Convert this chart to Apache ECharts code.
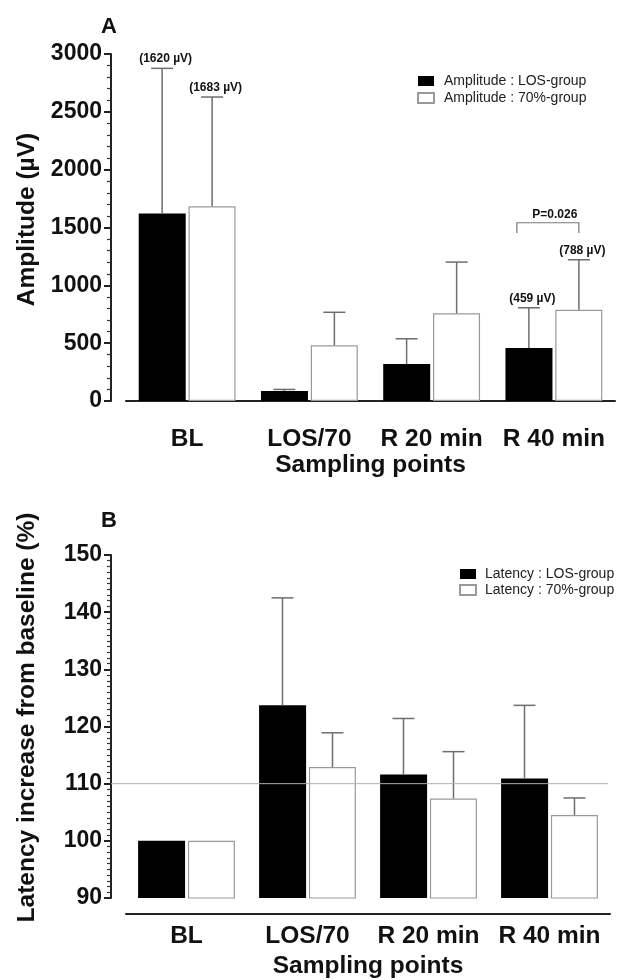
<!DOCTYPE html>
<html>
<head>
<meta charset="utf-8">
<script src="https://cdn.jsdelivr.net/npm/echarts@6/dist/echarts.min.js"></script>
<style>
html,body{margin:0;padding:0;background:#fff;}
#c{width:617px;height:980px;}
</style>
</head>
<body>
<div id="c"></div>
<script>
// ---- data ----
var categories = ['BL', 'LOS/70', 'R 20 min', 'R 40 min'];
var ampLOS = [1620, 86, 320, 459];
var ampLOSErr = [2876, 100, 538, 806];
var amp70 = [1683, 481, 758, 788];
var amp70Err = [2628, 767, 1201, 1221];
var ampLOSLabels = ['(1620 µV)', '', '', '(459 µV)'];
var amp70Labels = ['(1683 µV)', '', '', '(788 µV)'];
var pBracket = [[3, 1541, 1452]];
var pText = 'P=0.026';
var latLOS = [100, 123.7, 111.6, 110.9];
var latLOSErr = [null, 142.5, 121.4, 123.7];
var lat70 = [100, 112.9, 107.4, 104.5];
var lat70Err = [null, 118.9, 115.6, 107.5];
var latRef = 110;
var ampTicks = {min: 0, max: 3000, interval: 500};
var latTicks = {min: 90, max: 150, interval: 10};

var FONT = "'Liberation Sans', Arial, sans-serif";
var ERR = '#6e6e6e';
var HALF = 25; // half of (bar width + gap)

function errData(hi, mean) {
  var out = [];
  hi.forEach(function (v, i) { if (v != null) out.push([i, v, mean[i]]); });
  return out;
}
function errRender(shift, labels) {
  return function (params, api) {
    var idx = api.value(0);
    var top = api.coord([idx, api.value(1)]);
    var base = api.coord([idx, api.value(2)]);
    var x = top[0] + shift;
    var ch = [
      {type: 'line', shape: {x1: x, y1: base[1], x2: x, y2: top[1]}, style: {stroke: ERR, lineWidth: 1.5}},
      {type: 'line', shape: {x1: x - 11, y1: top[1], x2: x + 11, y2: top[1]}, style: {stroke: ERR, lineWidth: 1.5}}
    ];
    if (labels) {
      var t = labels[idx];
      if (t) ch.push({type: 'text', x: x + 3.5, y: top[1] - 9.5,
        style: {text: t, font: 'bold 12px ' + FONT, fill: '#111', align: 'center', verticalAlign: 'middle'}});
    }
    return {type: 'group', children: ch};
  };
}
function bracketRender(params, api) {
  var idx = api.value(0);
  var c = api.coord([idx, api.value(1)]);
  var b = api.coord([idx, api.value(2)]);
  var xl = c[0] - 37, xr = c[0] + HALF;
  return {type: 'group', children: [
    {type: 'polyline', shape: {points: [[xl, b[1]], [xl, c[1]], [xr, c[1]], [xr, b[1]]]}, style: {stroke: '#777', lineWidth: 1.2, fill: null}},
    {type: 'text', x: c[0] + 1, y: c[1] - 8.5, style: {text: pText, font: 'bold 12px ' + FONT, fill: '#111', align: 'center', verticalAlign: 'middle'}}
  ]};
}

function xAx(grid, labelMargin, nameGap) {
  return {
    type: 'category', gridIndex: grid, data: categories, offset: 16,
    axisLine: {lineStyle: {color: '#222', width: 2}},
    axisTick: {alignWithLabel: true, length: 5, lineStyle: {color: '#222', width: 1.5}},
    axisLabel: {interval: 0, fontFamily: FONT, fontWeight: 'bold', fontSize: 24.5, color: '#111', margin: labelMargin},
    name: 'Sampling points', nameLocation: 'middle', nameGap: nameGap,
    nameTextStyle: {fontFamily: FONT, fontWeight: 'bold', fontSize: 24.5, color: '#111'}
  };
}
function yAx(grid, t, name, nameGap, minorSplit, shiftUp) {
  return {
    type: 'value', gridIndex: grid, min: t.min, max: t.max, interval: t.interval, offset: 15,
    axisLine: {show: true, lineStyle: {color: '#222', width: 2}},
    axisTick: {show: true, length: 7, lineStyle: {color: '#222', width: 2}},
    minorTick: {show: true, splitNumber: minorSplit, length: 4, lineStyle: {color: '#333', width: 1.2}},
    splitLine: {show: false},
    axisLabel: {fontFamily: FONT, fontWeight: 'bold', fontSize: 23, color: '#111', margin: 9,
      formatter: function (v) { return String(v); }},
    name: name, nameLocation: 'middle', nameGap: nameGap,
    nameTextStyle: {fontFamily: FONT, fontWeight: 'bold', fontSize: 24.5, color: '#111', padding: [0, 0, 0, shiftUp]}
  };
}

var blackStyle = {color: '#000'};
var whiteStyle = {color: '#fff', borderColor: '#9a9a9a', borderWidth: 1.2};

var option = {
  animation: false,
  backgroundColor: '#fff',
  grid: [
    {left: 126, right: 2, top: 54, bottom: 579},
    {left: 126, right: 7, top: 555, bottom: 81}
  ],
  xAxis: [xAx(0, 10, 34), xAx(1, 10, 40)],
  yAxis: [yAx(0, ampTicks, 'Amplitude (µV)', 71, 5, 16), yAx(1, latTicks, 'Latency increase from baseline (%)', 71, 10, 18)],
  legend: [
    {orient: 'vertical', left: 417, top: 74, padding: 0, itemWidth: 16, itemHeight: 10, itemGap: 3, icon: 'rect',
     textStyle: {fontFamily: FONT, fontSize: 14, color: '#222', padding: [0, 0, 0, 5], lineHeight: 14},
     data: ['Amplitude : LOS-group', 'Amplitude : 70%-group']},
    {orient: 'vertical', left: 459, top: 567, padding: 0, itemWidth: 16, itemHeight: 10, itemGap: 2, icon: 'rect',
     textStyle: {fontFamily: FONT, fontSize: 14, color: '#222', padding: [0, 0, 0, 4], lineHeight: 14},
     data: ['Latency : LOS-group', 'Latency : 70%-group']}
  ],
  series: [
    {name: 'Amplitude : LOS-group', type: 'bar', xAxisIndex: 0, yAxisIndex: 0, data: ampLOS, barWidth: 47, barGap: '6%', itemStyle: blackStyle},
    {name: 'Amplitude : 70%-group', type: 'bar', xAxisIndex: 0, yAxisIndex: 0, data: amp70, barWidth: 47, barGap: '6%', itemStyle: whiteStyle},
    {type: 'custom', xAxisIndex: 0, yAxisIndex: 0, data: errData(ampLOSErr, ampLOS), renderItem: errRender(-HALF, ampLOSLabels), encode: {x: 0, y: [1, 2]}, z: 5},
    {type: 'custom', xAxisIndex: 0, yAxisIndex: 0, data: errData(amp70Err, amp70), renderItem: errRender(HALF, amp70Labels), encode: {x: 0, y: [1, 2]}, z: 5},
    {type: 'custom', xAxisIndex: 0, yAxisIndex: 0, data: pBracket, renderItem: bracketRender, encode: {x: 0, y: [1, 2]}, z: 5},
    {name: 'Latency : LOS-group', type: 'bar', xAxisIndex: 1, yAxisIndex: 1, data: latLOS, barWidth: 47, barGap: '6%', itemStyle: blackStyle},
    {name: 'Latency : 70%-group', type: 'bar', xAxisIndex: 1, yAxisIndex: 1, data: lat70, barWidth: 47, barGap: '6%', itemStyle: whiteStyle},
    {type: 'custom', xAxisIndex: 1, yAxisIndex: 1, data: errData(latLOSErr, latLOS), renderItem: errRender(-HALF, null), encode: {x: 0, y: [1, 2]}, z: 5},
    {type: 'custom', xAxisIndex: 1, yAxisIndex: 1, data: errData(lat70Err, lat70), renderItem: errRender(HALF, null), encode: {x: 0, y: [1, 2]}, z: 5}
  ]
};

var chart = echarts.init(document.getElementById('c'), null, {renderer: 'canvas'});
chart.setOption(option);
var yRef = chart.convertToPixel({yAxisIndex: 1}, latRef);
chart.setOption({graphic: [
  {type: 'text', left: 101, top: 16, style: {text: 'A', font: 'bold 22px ' + FONT, fill: '#111'}},
  {type: 'text', left: 101, top: 510, style: {text: 'B', font: 'bold 22px ' + FONT, fill: '#111'}},
  {type: 'line', shape: {x1: 111, y1: yRef, x2: 608, y2: yRef}, style: {stroke: '#b0b0b0', lineWidth: 1}, z: 10}
]});
</script>
</body>
</html>
